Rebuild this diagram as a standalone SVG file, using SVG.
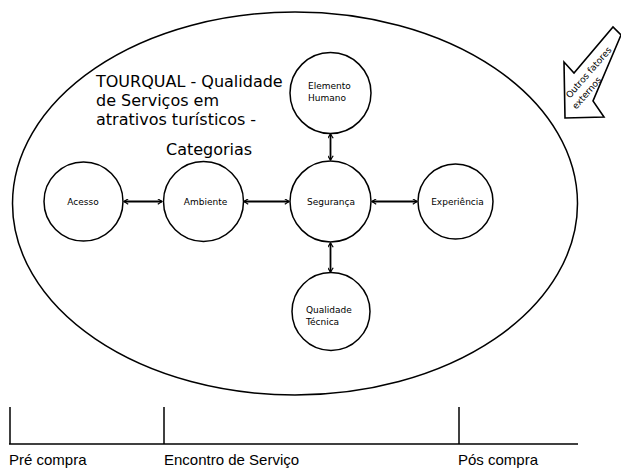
<svg xmlns="http://www.w3.org/2000/svg" width="621" height="468" viewBox="0 0 621 468">
<style>
  .node { fill: #ffffff; stroke: #000000; stroke-width: 1.5; }
  .lbl { font-family: "DejaVu Sans", sans-serif; font-size: 9px; fill: #000000; }
  .title { font-family: "DejaVu Sans", sans-serif; font-size: 16px; fill: #000000; }
  .phase { font-family: "Liberation Sans", Arial, sans-serif; font-size: 15px; fill: #000000; }
  .conn { stroke: #000000; stroke-width: 1.8; fill: none; marker-start: url(#head); marker-end: url(#head); }
  .tl { stroke: #000000; stroke-width: 1.5; fill: none; }
</style>
<defs>
  <marker id="head" viewBox="0 0 10 10" refX="9" refY="5" markerWidth="6" markerHeight="6" markerUnits="userSpaceOnUse" orient="auto-start-reverse">
    <path d="M2,0.5 L9,5 L2,9.5" fill="none" stroke="#000000" stroke-width="2"/>
  </marker>
</defs>
<rect width="621" height="468" fill="#ffffff"/>

<g id="contexto">
  <ellipse cx="295" cy="203.5" rx="282.5" ry="191.5" fill="none" stroke="#000000" stroke-width="1.5"/>
  <text class="title" x="96" y="86.5">TOURQUAL - Qualidade</text>
  <text class="title" x="96" y="105.5">de Serviços em</text>
  <text class="title" x="96" y="124.5">atrativos turísticos -</text>
  <text class="title" x="166" y="155">Categorias</text>
</g>

<g id="outros-fatores">
  <polygon points="565,118 564,62 574,73 613,27 621,35 593,101 604,117" fill="#ffffff" stroke="#000000" stroke-width="1.6" stroke-linejoin="miter"/>
  <text class="lbl" text-anchor="middle" transform="translate(591,74.5) rotate(-49)">Outros fatores</text>
  <text class="lbl" text-anchor="middle" transform="translate(589,95) rotate(-49)">externos</text>
</g>

<g id="connectors">
  <line class="conn" x1="124" y1="201.5" x2="162" y2="201.5"/>
  <line class="conn" x1="244" y1="201.5" x2="289" y2="201.5"/>
  <line class="conn" x1="372" y1="201.5" x2="417" y2="201.5"/>
  <line class="conn" x1="330.5" y1="134" x2="330.5" y2="160"/>
  <line class="conn" x1="330.5" y1="243" x2="330.5" y2="272"/>
</g>

<g id="acesso">
  <circle class="node" cx="83.5" cy="201.5" r="39.5"/>
  <text class="lbl" x="83" y="204.5" text-anchor="middle">Acesso</text>
</g>
<g id="ambiente">
  <circle class="node" cx="203.5" cy="201.5" r="40"/>
  <text class="lbl" x="205.5" y="204.5" text-anchor="middle">Ambiente</text>
</g>
<g id="seguranca">
  <circle class="node" cx="330.5" cy="201.5" r="40.5"/>
  <text class="lbl" x="331" y="204.5" text-anchor="middle">Segurança</text>
</g>
<g id="experiencia">
  <circle class="node" cx="455.5" cy="201.5" r="37.5"/>
  <text class="lbl" x="457.5" y="204.5" text-anchor="middle">Experiência</text>
</g>
<g id="elemento-humano">
  <circle class="node" cx="330.5" cy="93" r="40.5"/>
  <text class="lbl" x="308" y="88.5">Elemento</text>
  <text class="lbl" x="308" y="100.5">Humano</text>
</g>
<g id="qualidade-tecnica">
  <circle class="node" cx="331" cy="311.5" r="39"/>
  <text class="lbl" x="306" y="313">Qualidade</text>
  <text class="lbl" x="306" y="325">Técnica</text>
</g>

<g id="linha-tempo">
  <line class="tl" x1="9" y1="444" x2="578" y2="444"/>
  <line class="tl" x1="10" y1="407" x2="10" y2="444"/>
  <line class="tl" x1="164" y1="407" x2="164" y2="444"/>
  <line class="tl" x1="459" y1="407" x2="459" y2="444"/>
  <text class="phase" x="9" y="465">Pré compra</text>
  <text class="phase" x="164" y="465">Encontro de Serviço</text>
  <text class="phase" x="458" y="465">Pós compra</text>
</g>
</svg>
